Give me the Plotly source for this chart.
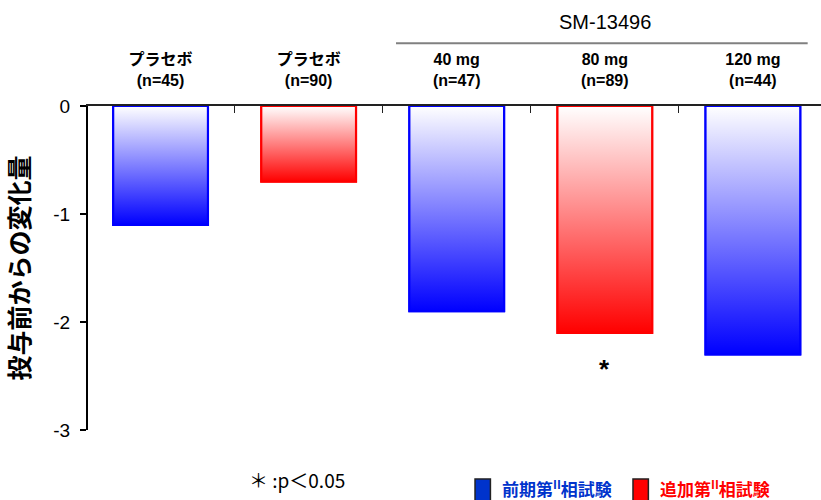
import plotly.graph_objects as go

# Change from baseline by treatment group
doses = ["プラセボ", "プラセボ", "40 mg", "80 mg", "120 mg"]
n_patients = [45, 90, 47, 89, 44]
changes = [-1.1, -0.7, -1.9, -2.1, -2.3]
studies = ["前期第II相試験", "追加第II相試験", "前期第II相試験", "追加第II相試験", "前期第II相試験"]
significant = [False, False, False, True, False]
y_ticks = [0, -1, -2, -3]

study_colors = {"前期第II相試験": "#0000FF", "追加第II相試験": "#FF0000"}
legend_colors = {"前期第II相試験": "#0033CC", "追加第II相試験": "#FF0000"}

BAR_W = 0.64
LATIN_FONT = "Liberation Sans, Arial, sans-serif"
LABEL_FONT = "Liberation Sans, Arial, Noto Sans CJK JP, sans-serif"
JP_FONT = "Noto Sans CJK JP, sans-serif"

fig = go.Figure()

positions = list(range(len(doses)))

# bars (data carrier; fill left clear so the gradient body shows)
for s in ["前期第II相試験", "追加第II相試験"]:
    idx = [i for i in positions if studies[i] == s]
    fig.add_trace(go.Bar(
        x=[positions[i] for i in idx], y=[changes[i] for i in idx],
        width=BAR_W, name=s,
        marker=dict(color="rgba(0,0,0,0)",
                    line=dict(color=study_colors[s], width=2)),
        showlegend=False,
    ))

# gradient body and outline of each bar (white at the baseline, saturated at the tip)
for i, (v, s) in enumerate(zip(changes, studies)):
    c = study_colors[s]
    x0, x1 = i - BAR_W / 2, i + BAR_W / 2
    fig.add_trace(go.Scatter(
        x=[x0, x1, x1, x0, x0], y=[0, 0, v, v, 0],
        mode="lines", fill="toself",
        line=dict(width=2.2, color=c),
        fillgradient=dict(type="vertical",
                          colorscale=[[0, c], [1, "#FFFFFF"]]),
        hoverinfo="skip", showlegend=False,
    ))

tick_text = [f"<b>{d}</b><br><b>(n={n})</b>" for d, n in zip(doses, n_patients)]

fig.update_layout(
    width=821, height=500,
    margin=dict(l=88, r=0, t=106, b=70),
    plot_bgcolor="white", paper_bgcolor="white",
    barmode="overlay",
    showlegend=False,
    xaxis=dict(
        side="top", range=[-0.49, 4.46],
        tickmode="array", tickvals=positions, ticktext=tick_text,
        ticks="", showgrid=False, zeroline=False,
        showline=True, linecolor="#222222", linewidth=1.5,
        tickfont=dict(family=LABEL_FONT, size=16, color="black"),
        ticklabelstandoff=12,
        minor=dict(tickmode="array", tickvals=[0.5, 1.5, 2.5, 3.5],
                   ticks="inside", ticklen=7, tickwidth=1,
                   tickcolor="#222222", showgrid=False),
    ),
    yaxis=dict(
        range=[-3, 0], tickmode="array", tickvals=y_ticks,
        ticktext=[str(t) for t in y_ticks],
        ticks="outside", ticklen=6, tickwidth=2, tickcolor="black",
        showline=True, linecolor="black", linewidth=2,
        showgrid=False, zeroline=False,
        tickfont=dict(family=LATIN_FONT, size=19, color="black"),
        ticklabelstandoff=6,
        title=dict(text="<b>投与前からの変化量</b>", standoff=18,
                   font=dict(family=JP_FONT, size=25, color="black")),
    ),
)

# group header for the active doses
fig.add_shape(type="line", xref="x", yref="paper",
              x0=1.59, x1=4.37, y0=1.194, y1=1.194,
              line=dict(color="#808080", width=2))
fig.add_annotation(x=3, xref="x", y=1.259, yref="paper", yanchor="middle",
                   text="SM-13496", showarrow=False,
                   font=dict(family=LATIN_FONT, size=20, color="black"))

# significance markers
for i, (v, sig) in enumerate(zip(changes, significant)):
    if sig:
        fig.add_annotation(x=i, y=v, yanchor="middle", yshift=-36,
                           text="<b>*</b>", showarrow=False,
                           font=dict(family=LATIN_FONT, size=26, color="black"))

fig.add_annotation(x=0.217, xref="paper", y=-0.153, yref="paper",
                   xanchor="left", yanchor="middle", showarrow=False,
                   text="＊ :p＜0.05",
                   font=dict(family=JP_FONT, size=19, color="black"))

# legend swatches and labels
legend_items = [("前期第II相試験", 0.528), ("追加第II相試験", 0.7435)]
for s, px in legend_items:
    fig.add_shape(type="rect", xref="paper", yref="paper",
                  x0=px, x1=px + 0.021, y0=-0.222, y1=-0.151,
                  fillcolor=legend_colors[s], line=dict(color="#222222", width=1.5))
    label = s.replace("II", "<sup>II</sup>")
    fig.add_annotation(x=px + 0.034, xref="paper", y=-0.180, yref="paper",
                       xanchor="left", yanchor="middle", showarrow=False,
                       text=f"<b>{label}</b>",
                       font=dict(family=JP_FONT, size=17, color=legend_colors[s]))

fig.write_html("out.html")
